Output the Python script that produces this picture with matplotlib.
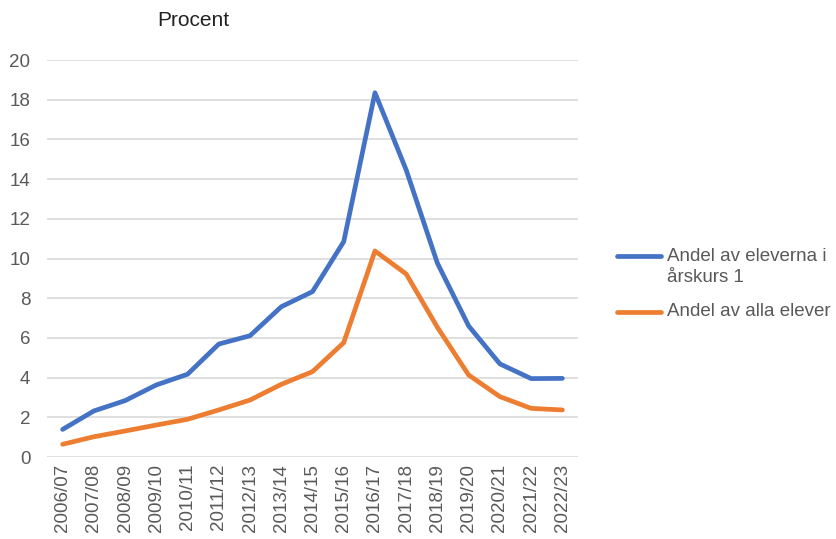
import matplotlib
matplotlib.use('Agg')
import matplotlib.pyplot as plt
from matplotlib.lines import Line2D

plt.rcParams['font.family'] = ['Liberation Sans', 'DejaVu Sans']

years = ['2006/07', '2007/08', '2008/09', '2009/10', '2010/11', '2011/12',
         '2012/13', '2013/14', '2014/15', '2015/16', '2016/17', '2017/18',
         '2018/19', '2019/20', '2020/21', '2021/22', '2022/23']
arskurs1 = [1.39, 2.32, 2.84, 3.63, 4.17, 5.69, 6.11, 7.57, 8.33, 10.85,
            18.35, 14.46, 9.76, 6.6, 4.69, 3.95, 3.96]
alla = [0.64, 1.02, 1.31, 1.61, 1.9, 2.37, 2.87, 3.66, 4.3, 5.76,
        10.38, 9.22, 6.53, 4.13, 3.04, 2.45, 2.37]
labels = ['Andel av eleverna i\nårskurs 1', 'Andel av alla elever']

blue = '#4472C4'
orange = '#ED7D31'
grey = '#595959'

W, H = 837, 539
fig = plt.figure(figsize=(W / 100, H / 100), dpi=100)
ax = fig.add_axes([47 / W, 1 - 457 / H, (578 - 47) / W, (457 - 60) / H])

x = range(len(years))
ax.plot(x, arskurs1, color=blue, lw=3.4, solid_capstyle='round', solid_joinstyle='round', zorder=3)
ax.plot(x, alla, color=orange, lw=3.4, solid_capstyle='round', solid_joinstyle='round', zorder=3)

ax.set_xlim(-0.5, len(years) - 0.5)
ax.set_ylim(0, 20)
ax.set_yticks(range(0, 21, 2))
ax.set_xticks(list(x))
ax.set_xticklabels(years, rotation=90)
ax.tick_params(length=0, labelsize=13.5, labelcolor=grey)
ax.tick_params(axis='y', pad=12)
ax.tick_params(axis='x', pad=5)
ax.grid(axis='y', color='#D9D9D9', lw=1.2)
for s in ax.spines.values():
    s.set_visible(False)

fig.text(193 / W, 1 - 20 / H, 'Procent', ha='center', va='center', fontsize=15, color='#222222')

# legend
fig.add_artist(Line2D([617 / W, 661 / W], [1 - 256 / H] * 2, color=blue, lw=3.4, solid_capstyle='round'))
fig.add_artist(Line2D([617 / W, 661 / W], [1 - 312 / H] * 2, color=orange, lw=3.4, solid_capstyle='round'))
fig.text(667 / W, 1 - 256 / H, 'Andel av eleverna i', va='center', fontsize=13.5, color=grey)
fig.text(667 / W, 1 - 278 / H, 'årskurs 1', va='center', fontsize=13.5, color=grey)
fig.text(667 / W, 1 - 312 / H, labels[1], va='center', fontsize=13.5, color=grey)

fig.savefig('out.png', dpi=100)
